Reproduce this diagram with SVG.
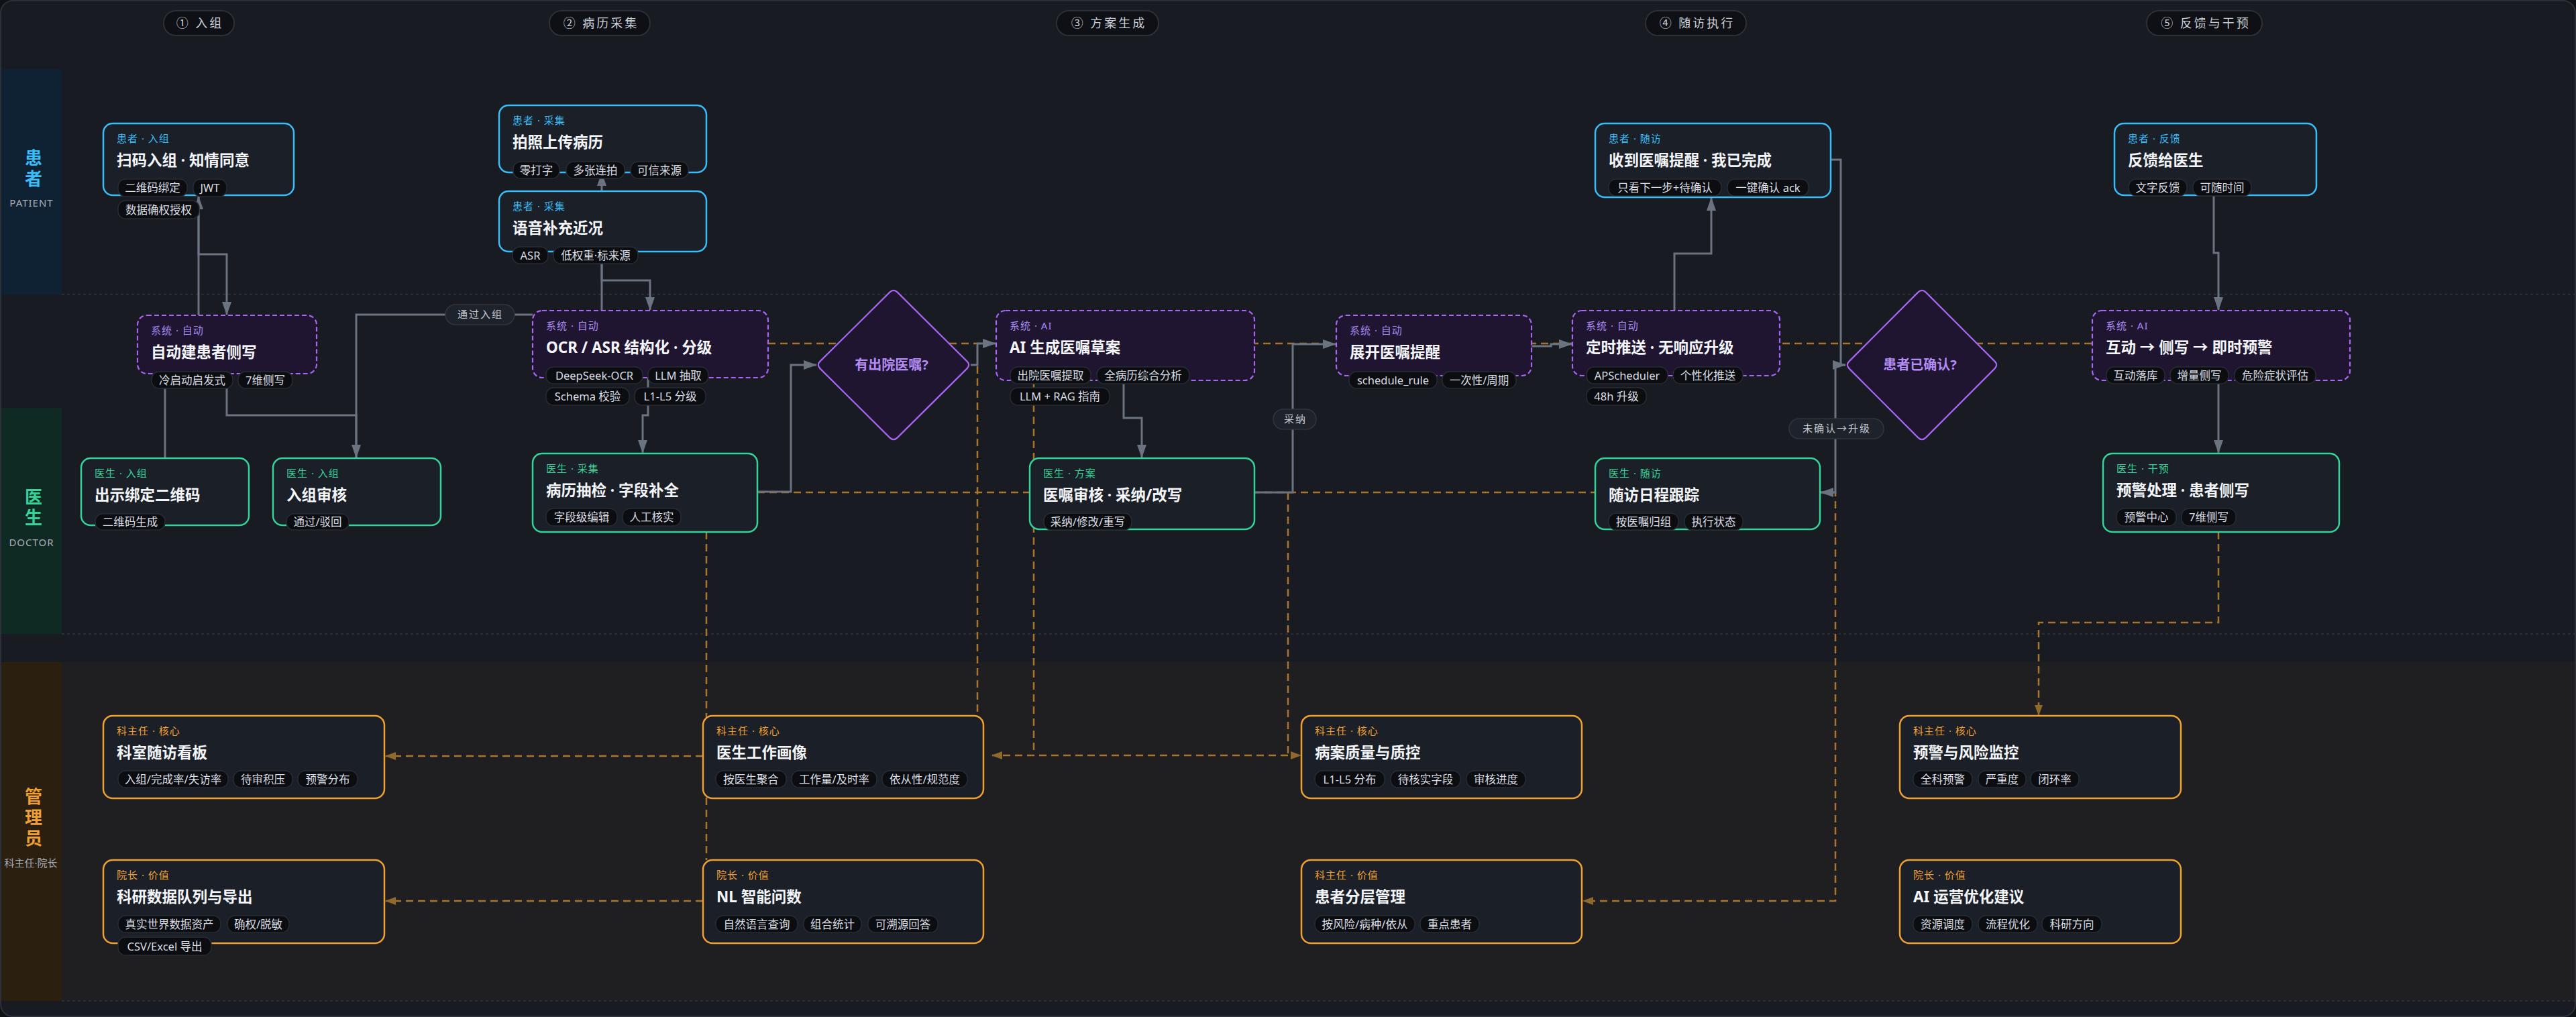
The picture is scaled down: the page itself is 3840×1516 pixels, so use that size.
<svg xmlns="http://www.w3.org/2000/svg" width="3840" height="1516" viewBox="0 0 3840 1516">
<defs>
<marker id="ag" viewBox="0 0 20 14" refX="19" refY="7" markerWidth="20" markerHeight="14" markerUnits="userSpaceOnUse" orient="auto"><path d="M0,0 L20,7 L0,14 z" fill="#6b7380"/></marker>
<marker id="ao" viewBox="0 0 16 12" refX="15" refY="6" markerWidth="16" markerHeight="12" markerUnits="userSpaceOnUse" orient="auto"><path d="M0,0 L16,6 L0,12 z" fill="#8f6a2c"/></marker>
<style>
text{font-family:"Noto Sans","Noto Sans CJK SC",sans-serif}
.phase{fill:#0e1015;stroke:#2c3039;stroke-width:2}
.phaset{font-size:18px;fill:#c9ced6;letter-spacing:3px;text-anchor:middle}
.lane{font-size:26px;font-weight:700;text-anchor:middle}
.lanes{font-size:15px;fill:#a7aeb8;text-anchor:middle;letter-spacing:1px}
.div{stroke:#30353e;stroke-width:1.5;stroke-dasharray:4 4}
.np{fill:#1b1f27;stroke:#38bdf8;stroke-width:2.5}
.nd{fill:#1b1f27;stroke:#34d399;stroke-width:2.5}
.ns{fill:#1f1530;stroke:#a866f2;stroke-width:2.2;stroke-dasharray:7 4}
.nm{fill:#1b1f27;stroke:#f0a030;stroke-width:2.5}
.dia{fill:#1f1530;stroke:#a866f2;stroke-width:2.2}
.diat{font-size:20px;font-weight:700;fill:#b48cf5;text-anchor:middle}
.rp,.rd,.rs,.rm{font-size:15px;letter-spacing:1px}
.rp{fill:#38bdf8}
.rd{fill:#34d399}
.rs{fill:#a98bf0}
.rm{fill:#f0a030}
.ti{font-size:22.5px;font-weight:700;fill:#f3f5f8}
.tag rect{fill:#0b0d11;stroke:#272b33;stroke-width:1.5}
.tag text{font-size:16.5px;fill:#dadde3;text-anchor:middle}
.eg{fill:none;stroke:#6b7380;stroke-width:3}
.eo{fill:none;stroke:#a8742e;stroke-width:2.5;stroke-dasharray:11 7}
.lbl rect{fill:#1e222a;stroke:#30353e;stroke-width:1.5}
.lbl text{font-size:15px;fill:#c5cad2;text-anchor:middle;letter-spacing:2px}
</style>
</defs>
<rect x="0" y="0" width="3840" height="1516" fill="#0f1115"/>
<rect x="1" y="1" width="3838" height="1514" rx="18" fill="#181b22" stroke="#2c3039" stroke-width="2"/>
<g id="lanes">
<rect x="2" y="987" width="3836" height="505" fill="#1f1f22"/>
<rect x="2" y="103" width="90" height="336" fill="#0f2234"/>
<rect x="2" y="608" width="90" height="337" fill="#0f2a22"/>
<rect x="2" y="987" width="90" height="505" fill="#2b1f10"/>
<line class="div" x1="92" y1="439" x2="3838" y2="439"/>
<line class="div" x1="92" y1="945" x2="3838" y2="945"/>
<line class="div" x1="92" y1="1492" x2="3838" y2="1492"/>
<text class="lane" x="50" y="245" fill="#38bdf8">患</text>
<text class="lane" x="50" y="276" fill="#38bdf8">者</text>
<text class="lanes" x="47" y="308">PATIENT</text>
<text class="lane" x="50" y="750" fill="#34d399">医</text>
<text class="lane" x="50" y="781" fill="#34d399">生</text>
<text class="lanes" x="47" y="814">DOCTOR</text>
<text class="lane" x="50" y="1197" fill="#f0a030">管</text>
<text class="lane" x="50" y="1228" fill="#f0a030">理</text>
<text class="lane" x="50" y="1259" fill="#f0a030">员</text>
<text class="lanes" x="46" y="1292" style="letter-spacing:0">科主任·院长</text>
</g>
<g id="phases">
<rect class="phase" x="244" y="16" width="105" height="37" rx="18"/><text class="phaset" x="298" y="41">① 入组</text>
<rect class="phase" x="819" y="16" width="150" height="37" rx="18"/><text class="phaset" x="896" y="41">② 病历采集</text>
<rect class="phase" x="1575" y="16" width="152" height="37" rx="18"/><text class="phaset" x="1653" y="41">③ 方案生成</text>
<rect class="phase" x="2453" y="16" width="150" height="37" rx="18"/><text class="phaset" x="2530" y="41">④ 随访执行</text>
<rect class="phase" x="3200" y="16" width="172" height="37" rx="18"/><text class="phaset" x="3288" y="41">⑤ 反馈与干预</text>
</g>
<g id="connectors">
<path class="eo" d="M1145,512 H3119"/>
<path class="eo" d="M1129,734 H2378"/>
<path class="eo" d="M1053,793 V1282"/>
<path class="eo" d="M1457,546 V1067"/>
<path class="eo" d="M1541,567 V1126"/>
<path class="eo" d="M1920,1126 H1479" marker-end="url(#ao)"/>
<path class="eo" d="M1920,734 V1126 H1939" marker-end="url(#ao)"/>
<path class="eo" d="M1048,1127 H575" marker-end="url(#ao)"/>
<path class="eo" d="M1048,1343 H575" marker-end="url(#ao)"/>
<path class="eo" d="M2713,734 H2736 V1343 H2360" marker-end="url(#ao)"/>
<path class="eo" d="M3307,793 V928 H3039 V1066" marker-end="url(#ao)"/>
<path class="eg" d="M296,293 V379 H338 V469" marker-end="url(#ag)"/>
<path class="eg" d="M246,683 V520 H296 V293" marker-end="url(#ag)"/>
<path class="eg" d="M338,557 V619 H531 V682" marker-end="url(#ag)"/>
<path class="eg" d="M531,683 V469 H794"/>
<path class="eg" d="M897,463 V258" marker-end="url(#ag)"/>
<path class="eg" d="M897,375 V418 H969 V462" marker-end="url(#ag)"/>
<path class="eg" d="M966,563 V619 H958 V675" marker-end="url(#ag)"/>
<path class="eg" d="M1129,733 H1179 V544 H1217" marker-end="url(#ag)"/>
<path class="eg" d="M1447,544 H1457 V512 H1484" marker-end="url(#ag)"/>
<path class="eg" d="M1675,567 V623 H1702 V682" marker-end="url(#ag)"/>
<path class="eg" d="M1870,734 H1927 V513 H1991" marker-end="url(#ag)"/>
<path class="eg" d="M2283,516 H2312 V513 H2343" marker-end="url(#ag)"/>
<path class="eg" d="M2496,463 V378 H2551 V295" marker-end="url(#ag)"/>
<path class="eg" d="M2729,238 H2744 V544 H2751" marker-end="url(#ag)"/>
<path class="eg" d="M2751,544 H2736 V734 H2714" marker-end="url(#ag)"/>
<path class="eg" d="M3300,292 V377 H3307 V462" marker-end="url(#ag)"/>
<path class="eg" d="M3307,567 V675" marker-end="url(#ag)"/>
</g>
<g id="P1"><rect class="np" x="154" y="184" width="284" height="107" rx="14"/><text class="rp" x="174" y="212">患者 · 入组</text><text class="ti" x="174" y="247">扫码入组 · 知情同意</text>
<g class="tag"><rect x="176" y="267" width="103" height="26" rx="11"/><text x="227.5" y="286">二维码绑定</text><rect x="288" y="267" width="50" height="26" rx="11"/><text x="313" y="286">JWT</text><rect x="176" y="299" width="121" height="27" rx="11"/><text x="236.5" y="318.5">数据确权授权</text></g></g>
<g id="P2"><rect class="np" x="744" y="157" width="309" height="100" rx="14"/><text class="rp" x="764" y="185">患者 · 采集</text><text class="ti" x="764" y="220">拍照上传病历</text>
<g class="tag"><rect x="765" y="241" width="69" height="25" rx="11"/><text x="799.5" y="259.5">零打字</text><rect x="844" y="241" width="87" height="25" rx="11"/><text x="887.5" y="259.5">多张连拍</text><rect x="940" y="241" width="86" height="25" rx="11"/><text x="983" y="259.5">可信来源</text></g></g>
<g id="P3"><rect class="np" x="744" y="285" width="309" height="90" rx="14"/><text class="rp" x="764" y="313">患者 · 采集</text><text class="ti" x="764" y="348">语音补充近况</text>
<g class="tag"><rect x="764" y="368" width="53" height="25" rx="11"/><text x="790.5" y="386.5">ASR</text><rect x="825" y="368" width="126" height="25" rx="11"/><text x="888" y="386.5">低权重·标来源</text></g></g>
<g id="P4"><rect class="np" x="2378" y="184" width="351" height="110" rx="14"/><text class="rp" x="2398" y="212">患者 · 随访</text><text class="ti" x="2398" y="247">收到医嘱提醒 · 我已完成</text>
<g class="tag"><rect x="2398" y="267" width="168" height="25" rx="11"/><text x="2482" y="285.5">只看下一步+待确认</text><rect x="2575" y="267" width="121" height="25" rx="11"/><text x="2635.5" y="285.5">一键确认 ack</text></g></g>
<g id="P5"><rect class="np" x="3152" y="184" width="301" height="107" rx="14"/><text class="rp" x="3172" y="212">患者 · 反馈</text><text class="ti" x="3172" y="247">反馈给医生</text>
<g class="tag"><rect x="3173" y="267" width="87" height="25" rx="11"/><text x="3216.5" y="285.5">文字反馈</text><rect x="3269" y="267" width="87" height="25" rx="11"/><text x="3312.5" y="285.5">可随时间</text></g></g>
<g id="S1"><rect class="ns" x="205" y="470" width="267" height="87" rx="14"/><text class="rs" x="225" y="498">系统 · 自动</text><text class="ti" x="225" y="533">自动建患者侧写</text>
<g class="tag"><rect x="226" y="554" width="121" height="25" rx="11"/><text x="286.5" y="572.5">冷启动启发式</text><rect x="355" y="554" width="81" height="25" rx="11"/><text x="395.5" y="572.5">7维侧写</text></g></g>
<g id="S2"><rect class="ns" x="794" y="463" width="351" height="100" rx="14"/><text class="rs" x="814" y="491">系统 · 自动</text><text class="ti" x="814" y="526">OCR / ASR 结构化 · 分级</text>
<g class="tag"><rect x="814" y="547" width="144" height="25" rx="11"/><text x="886" y="565.5">DeepSeek-OCR</text><rect x="966" y="547" width="90" height="25" rx="11"/><text x="1011" y="565.5">LLM 抽取</text><rect x="814" y="578" width="124" height="26" rx="11"/><text x="876" y="597">Schema 校验</text><rect x="946" y="578" width="106" height="26" rx="11"/><text x="999" y="597">L1-L5 分级</text></g></g>
<g id="D_exist"><path class="dia" d="M1326.3,435.6 Q1332,430 1337.7,435.6 L1441.3,538.4 Q1447,544 1441.3,549.6 L1337.7,652.4 Q1332,658 1326.3,652.4 L1222.7,549.6 Q1217,544 1222.7,538.4 Z"/><text class="diat" x="1329" y="551">有出院医嘱?</text></g>
<g id="S3"><rect class="ns" x="1485" y="463" width="385" height="104" rx="14"/><text class="rs" x="1505" y="491">系统 · AI</text><text class="ti" x="1505" y="526">AI 生成医嘱草案</text>
<g class="tag"><rect x="1506" y="547" width="120" height="25" rx="11"/><text x="1566" y="565.5">出院医嘱提取</text><rect x="1635" y="547" width="138" height="25" rx="11"/><text x="1704" y="565.5">全病历综合分析</text><rect x="1506" y="578" width="148" height="26" rx="11"/><text x="1580" y="597">LLM + RAG 指南</text></g></g>
<g id="S4"><rect class="ns" x="1992" y="470" width="291" height="90" rx="14"/><text class="rs" x="2012" y="498">系统 · 自动</text><text class="ti" x="2012" y="533">展开医嘱提醒</text>
<g class="tag"><rect x="2011" y="554" width="131" height="25" rx="11"/><text x="2076.5" y="572.5">schedule_rule</text><rect x="2150" y="554" width="110" height="25" rx="11"/><text x="2205" y="572.5">一次性/周期</text></g></g>
<g id="S5"><rect class="ns" x="2344" y="463" width="309" height="97" rx="14"/><text class="rs" x="2364" y="491">系统 · 自动</text><text class="ti" x="2364" y="526">定时推送 · 无响应升级</text>
<g class="tag"><rect x="2365" y="547" width="121" height="25" rx="11"/><text x="2425.5" y="565.5">APScheduler</text><rect x="2494" y="547" width="104" height="25" rx="11"/><text x="2546" y="565.5">个性化推送</text><rect x="2365" y="578" width="89" height="26" rx="11"/><text x="2409.5" y="597">48h 升级</text></g></g>
<g id="D_ack"><path class="dia" d="M2859.3,435.6 Q2865,430 2870.7,435.6 L2973.3,538.4 Q2979,544 2973.3,549.6 L2870.7,652.4 Q2865,658 2859.3,652.4 L2756.7,549.6 Q2751,544 2756.7,538.4 Z"/><text class="diat" x="2862" y="551">患者已确认?</text></g>
<g id="S6"><rect class="ns" x="3119" y="463" width="384" height="104" rx="14"/><text class="rs" x="3139" y="491">系统 · AI</text><text class="ti" x="3139" y="526">互动 → 侧写 → 即时预警</text>
<g class="tag"><rect x="3140" y="547" width="87" height="25" rx="11"/><text x="3183.5" y="565.5">互动落库</text><rect x="3235" y="547" width="87" height="25" rx="11"/><text x="3278.5" y="565.5">增量侧写</text><rect x="3331" y="547" width="121" height="25" rx="11"/><text x="3391.5" y="565.5">危险症状评估</text></g></g>
<g id="D1"><rect class="nd" x="121" y="683" width="250" height="100" rx="14"/><text class="rd" x="141" y="711">医生 · 入组</text><text class="ti" x="141" y="746">出示绑定二维码</text>
<g class="tag"><rect x="142" y="766" width="104" height="24" rx="11"/><text x="194" y="784">二维码生成</text></g></g>
<g id="D2"><rect class="nd" x="407" y="683" width="250" height="100" rx="14"/><text class="rd" x="427" y="711">医生 · 入组</text><text class="ti" x="427" y="746">入组审核</text>
<g class="tag"><rect x="427" y="766" width="93" height="24" rx="11"/><text x="473.5" y="784">通过/驳回</text></g></g>
<g id="D3"><rect class="nd" x="794" y="676" width="335" height="117" rx="14"/><text class="rd" x="814" y="704">医生 · 采集</text><text class="ti" x="814" y="739">病历抽检 · 字段补全</text>
<g class="tag"><rect x="814" y="758" width="106" height="26" rx="11"/><text x="867" y="777">字段级编辑</text><rect x="928" y="758" width="87" height="26" rx="11"/><text x="971.5" y="777">人工核实</text></g></g>
<g id="D4"><rect class="nd" x="1535" y="683" width="335" height="106" rx="14"/><text class="rd" x="1555" y="711">医生 · 方案</text><text class="ti" x="1555" y="746">医嘱审核 · 采纳/改写</text>
<g class="tag"><rect x="1556" y="765" width="131" height="25" rx="11"/><text x="1621.5" y="783.5">采纳/修改/重写</text></g></g>
<g id="D5"><rect class="nd" x="2378" y="683" width="335" height="106" rx="14"/><text class="rd" x="2398" y="711">医生 · 随访</text><text class="ti" x="2398" y="746">随访日程跟踪</text>
<g class="tag"><rect x="2398" y="765" width="104" height="25" rx="11"/><text x="2450" y="783.5">按医嘱归组</text><rect x="2511" y="765" width="87" height="25" rx="11"/><text x="2554.5" y="783.5">执行状态</text></g></g>
<g id="D6"><rect class="nd" x="3135" y="676" width="352" height="117" rx="14"/><text class="rd" x="3155" y="704">医生 · 干预</text><text class="ti" x="3155" y="739">预警处理 · 患者侧写</text>
<g class="tag"><rect x="3155" y="758" width="89" height="26" rx="11"/><text x="3199.5" y="777">预警中心</text><rect x="3252" y="758" width="81" height="26" rx="11"/><text x="3292.5" y="777">7维侧写</text></g></g>
<g id="M1"><rect class="nm" x="154" y="1067" width="419" height="123" rx="14"/><text class="rm" x="174" y="1095">科主任 · 核心</text><text class="ti" x="174" y="1130">科室随访看板</text>
<g class="tag"><rect x="176" y="1149" width="164" height="25" rx="11"/><text x="258" y="1167.5">入组/完成率/失访率</text><rect x="348" y="1149" width="88" height="25" rx="11"/><text x="392" y="1167.5">待审积压</text><rect x="444" y="1149" width="89" height="25" rx="11"/><text x="488.5" y="1167.5">预警分布</text></g></g>
<g id="M2"><rect class="nm" x="154" y="1282" width="419" height="124" rx="14"/><text class="rm" x="174" y="1310">院长 · 价值</text><text class="ti" x="174" y="1345">科研数据队列与导出</text>
<g class="tag"><rect x="176" y="1365" width="153" height="25" rx="11"/><text x="252.5" y="1383.5">真实世界数据资产</text><rect x="339" y="1365" width="92" height="25" rx="11"/><text x="385" y="1383.5">确权/脱敏</text><rect x="176" y="1397" width="139" height="27" rx="11"/><text x="245.5" y="1416.5">CSV/Excel 导出</text></g></g>
<g id="M3"><rect class="nm" x="1048" y="1067" width="418" height="123" rx="14"/><text class="rm" x="1068" y="1095">科主任 · 核心</text><text class="ti" x="1068" y="1130">医生工作画像</text>
<g class="tag"><rect x="1067" y="1149" width="105" height="25" rx="11"/><text x="1119.5" y="1167.5">按医生聚合</text><rect x="1180" y="1149" width="127" height="25" rx="11"/><text x="1243.5" y="1167.5">工作量/及时率</text><rect x="1315" y="1149" width="127" height="25" rx="11"/><text x="1378.5" y="1167.5">依从性/规范度</text></g></g>
<g id="M4"><rect class="nm" x="1048" y="1282" width="418" height="124" rx="14"/><text class="rm" x="1068" y="1310">院长 · 价值</text><text class="ti" x="1068" y="1345">NL 智能问数</text>
<g class="tag"><rect x="1067" y="1365" width="122" height="25" rx="11"/><text x="1128" y="1383.5">自然语言查询</text><rect x="1198" y="1365" width="86" height="25" rx="11"/><text x="1241" y="1383.5">组合统计</text><rect x="1294" y="1365" width="104" height="25" rx="11"/><text x="1346" y="1383.5">可溯源回答</text></g></g>
<g id="M5"><rect class="nm" x="1940" y="1067" width="418" height="123" rx="14"/><text class="rm" x="1960" y="1095">科主任 · 核心</text><text class="ti" x="1960" y="1130">病案质量与质控</text>
<g class="tag"><rect x="1960" y="1149" width="104" height="25" rx="11"/><text x="2012" y="1167.5">L1-L5 分布</text><rect x="2073" y="1149" width="104" height="25" rx="11"/><text x="2125" y="1167.5">待核实字段</text><rect x="2186" y="1149" width="88" height="25" rx="11"/><text x="2230" y="1167.5">审核进度</text></g></g>
<g id="M6"><rect class="nm" x="1940" y="1282" width="418" height="124" rx="14"/><text class="rm" x="1960" y="1310">科主任 · 价值</text><text class="ti" x="1960" y="1345">患者分层管理</text>
<g class="tag"><rect x="1960" y="1365" width="149" height="25" rx="11"/><text x="2034.5" y="1383.5">按风险/病种/依从</text><rect x="2117" y="1365" width="88" height="25" rx="11"/><text x="2161" y="1383.5">重点患者</text></g></g>
<g id="M7"><rect class="nm" x="2832" y="1067" width="419" height="123" rx="14"/><text class="rm" x="2852" y="1095">科主任 · 核心</text><text class="ti" x="2852" y="1130">预警与风险监控</text>
<g class="tag"><rect x="2852" y="1149" width="88" height="25" rx="11"/><text x="2896" y="1167.5">全科预警</text><rect x="2949" y="1149" width="71" height="25" rx="11"/><text x="2984.5" y="1167.5">严重度</text><rect x="3027" y="1149" width="72" height="25" rx="11"/><text x="3063" y="1167.5">闭环率</text></g></g>
<g id="M8"><rect class="nm" x="2832" y="1282" width="419" height="124" rx="14"/><text class="rm" x="2852" y="1310">院长 · 价值</text><text class="ti" x="2852" y="1345">AI 运营优化建议</text>
<g class="tag"><rect x="2852" y="1365" width="88" height="25" rx="11"/><text x="2896" y="1383.5">资源调度</text><rect x="2949" y="1365" width="88" height="25" rx="11"/><text x="2993" y="1383.5">流程优化</text><rect x="3044" y="1365" width="89" height="25" rx="11"/><text x="3088.5" y="1383.5">科研方向</text></g></g>
<g id="edge-labels" class="lbl">
<rect x="664" y="454" width="103" height="30" rx="15"/><text x="716" y="474">通过入组</text>
<rect x="1898" y="610" width="64" height="30" rx="15"/><text x="1931" y="630">采纳</text>
<rect x="2667" y="624" width="141" height="30" rx="15"/><text x="2738" y="644">未确认→升级</text>
</g>
</svg>
